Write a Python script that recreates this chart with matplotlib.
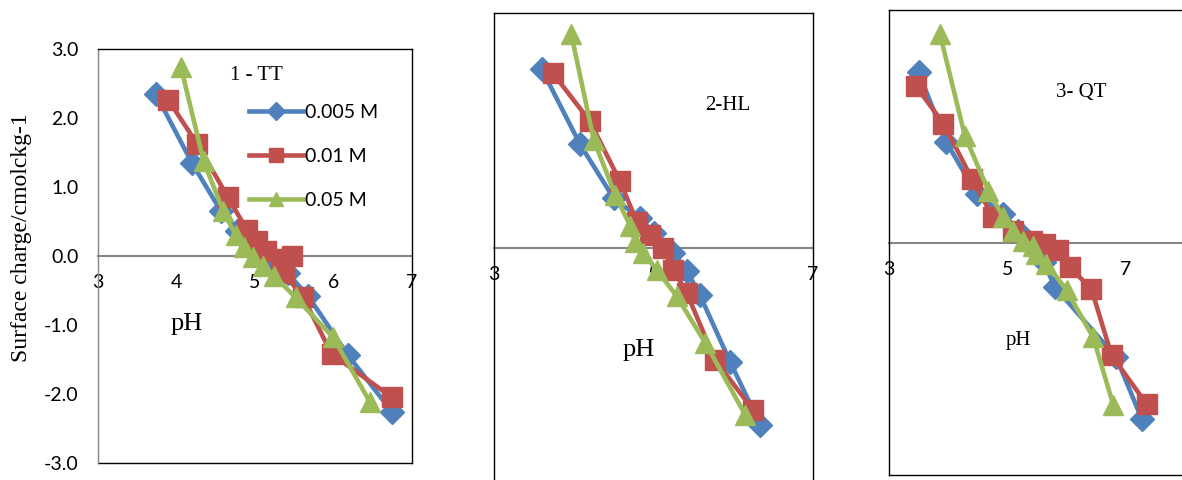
import numpy as np
import matplotlib
matplotlib.use('Agg')
import matplotlib.pyplot as plt

plt.rcParams['axes.unicode_minus'] = False

W, H = 1182, 480

# panel 1 - TT
tt_ph_005 = [3.74, 4.20, 4.57, 4.78, 4.95, 5.10, 5.30, 5.42, 5.68, 6.19, 6.75]
tt_q_005 = [2.35, 1.35, 0.65, 0.36, 0.15, 0.02, -0.12, -0.25, -0.58, -1.44, -2.26]
tt_ph_001 = [3.90, 4.27, 4.66, 4.90, 5.03, 5.15, 5.34, 5.48, 5.37, 5.62, 5.98, 6.75]
tt_q_001 = [2.26, 1.62, 0.85, 0.38, 0.22, 0.07, -0.05, 0.0, -0.25, -0.60, -1.42, -2.05]
tt_ph_05 = [4.06, 4.35, 4.60, 4.76, 4.86, 4.98, 5.10, 5.25, 5.52, 6.00, 6.47]
tt_q_05 = [2.74, 1.37, 0.65, 0.30, 0.13, -0.02, -0.14, -0.29, -0.60, -1.18, -2.12]

# panel 2 - HL
hl_ph_005 = [3.60, 4.08, 4.50, 4.83, 5.00, 5.25, 5.42, 5.58, 5.96, 6.34]
hl_q_005 = [2.66, 1.54, 0.74, 0.44, 0.22, -0.08, -0.35, -0.70, -1.70, -2.64]
hl_ph_001 = [3.74, 4.20, 4.58, 4.79, 4.96, 5.12, 5.25, 5.42, 5.77, 6.25]
hl_q_001 = [2.60, 1.89, 0.99, 0.39, 0.19, 0.0, -0.33, -0.68, -1.67, -2.42]
hl_ph_05 = [3.97, 4.25, 4.52, 4.71, 4.77, 4.87, 5.04, 5.29, 5.65, 6.15]
hl_q_05 = [3.18, 1.61, 0.79, 0.32, 0.08, -0.08, -0.33, -0.72, -1.42, -2.49]

# panel 3 - QT
qt_ph_005 = [3.50, 3.97, 4.48, 4.93, 5.18, 5.45, 5.62, 5.80, 6.84, 7.27]
qt_q_005 = [2.56, 1.51, 0.73, 0.43, 0.18, -0.05, -0.30, -0.67, -1.73, -2.66]
qt_ph_001 = [3.45, 3.92, 4.40, 4.76, 5.10, 5.41, 5.63, 5.86, 6.05, 6.42, 6.76, 7.35]
qt_q_001 = [2.36, 1.79, 0.96, 0.38, 0.18, 0.03, -0.02, -0.12, -0.37, -0.70, -1.70, -2.43]
qt_ph_05 = [3.86, 4.28, 4.68, 4.93, 5.10, 5.27, 5.44, 5.49, 5.66, 6.00, 6.45, 6.79]
qt_q_05 = [3.14, 1.61, 0.78, 0.38, 0.18, 0.03, -0.05, -0.17, -0.32, -0.72, -1.43, -2.45]

labels = ['0.005 M', '0.01 M', '0.05 M']
colors = ['#4F81BD', '#C0504D', '#9BBB59']
markers = ['D', 's', '^']
msizes = [12, 14, 14]

panels = [
    ([tt_ph_005, tt_ph_001, tt_ph_05], [tt_q_005, tt_q_001, tt_q_05]),
    ([hl_ph_005, hl_ph_001, hl_ph_05], [hl_q_005, hl_q_001, hl_q_05]),
    ([qt_ph_005, qt_ph_001, qt_ph_05], [qt_q_005, qt_q_001, qt_q_05]),
]

fig = plt.figure(figsize=(W/100, H/100), dpi=100)

def px_axes(x0, y0, x1, y1):
    return fig.add_axes([x0/W, 1-y1/H, (x1-x0)/W, (y1-y0)/H])

ax1 = px_axes(97.7, 49, 411.7, 463)
ax2 = px_axes(494, 13, 813, 482.5)
ax3 = px_axes(889, 10, 1185, 475)

ax1.set_xlim(3, 7); ax1.set_ylim(-3, 3)
ax2.set_xlim(3, 7); ax2.set_ylim(-3.5, 3.5)
ax3.set_xlim(3, 8); ax3.set_ylim(-3.5, 3.5)
ax1.set_xticks([3, 4, 5, 6, 7])
ax2.set_xticks([3, 5, 7])
ax3.set_xticks([3, 5, 7])

for ax, (xs, ys) in zip([ax1, ax2, ax3], panels):
    for x, y, c, m, ms, lab in zip(xs, ys, colors, markers, msizes, labels):
        ax.plot(x, y, color=c, marker=m, markersize=ms, lw=3.3, label=lab,
                solid_joinstyle='round', clip_on=False)
    for s in ['top', 'left', 'right']:
        ax.spines[s].set_color('black')
        ax.spines[s].set_linewidth(1.0)
    ax.spines['bottom'].set_position(('data', 0))
    ax.spines['bottom'].set_color('#868686')
    ax.spines['bottom'].set_linewidth(1.5)
    ax.spines['bottom'].set_zorder(0.5)
    ax.tick_params(axis='x', length=0, pad=13, labelsize=14)
    for t in ax.get_xticklabels():
        t.set_fontfamily('Lato')
    ax.patch.set_alpha(0)

# bottom edges of boxes
for ax in [ax1, ax2, ax3]:
    ax.plot([0, 1], [0, 0], transform=ax.transAxes, color='black', lw=1.0, clip_on=False)

ax1.set_yticks(np.arange(-3, 3.1, 1))
ax1.set_yticklabels(['%.1f' % v for v in np.arange(-3, 3.1, 1)], fontfamily='Lato')
ax1.tick_params(axis='y', length=0, pad=14, labelsize=14)
ax1.spines['left'].set_color('#868686')
ax2.set_yticks([]); ax3.set_yticks([])

fig.text(22/W, 1-238/H, 'Surface charge/cmolckg-1', rotation=90, ha='center', va='center',
         fontfamily='Liberation Serif', fontsize=17)

leg = ax1.legend(loc='upper left', bbox_to_anchor=(239/W, 1-94/H), bbox_transform=fig.transFigure,
                 frameon=False, handlelength=2.8, handletextpad=0.1, labelspacing=1.4,
                 markerscale=0.75, prop={'family': 'Lato', 'size': 14}, borderpad=0)

serif = 'Liberation Serif'
fig.text(256/W, 1-75/H, '1 - TT', ha='center', va='center', fontfamily=serif, fontsize=15)
fig.text(728/W, 1-105/H, '2-HL', ha='center', va='center', fontfamily=serif, fontsize=15)
fig.text(1081/W, 1-93/H, '3- QT', ha='center', va='center', fontfamily=serif, fontsize=15)
fig.text(187/W, 1-324/H, 'pH', ha='center', va='center', fontfamily=serif, fontsize=19)
fig.text(639/W, 1-350/H, 'pH', ha='center', va='center', fontfamily=serif, fontsize=19)
fig.text(1018/W, 1-341/H, 'pH', ha='center', va='center', fontfamily=serif, fontsize=15)

fig.savefig('out.png', dpi=100)
